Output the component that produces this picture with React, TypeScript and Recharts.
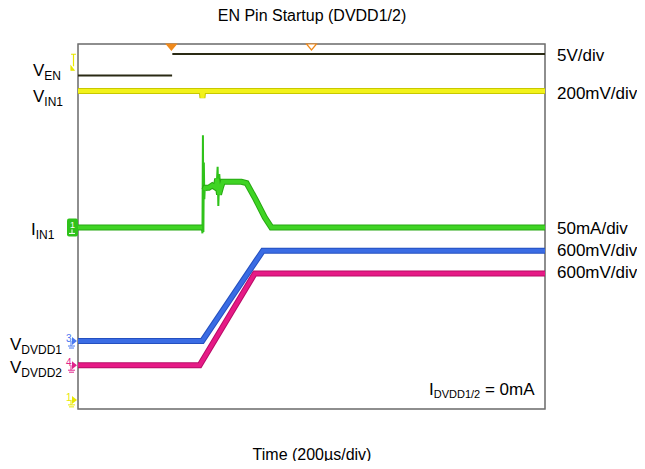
import React from 'react';
import { LineChart, Line, XAxis, YAxis, CartesianGrid, ReferenceArea, ReferenceDot } from 'recharts';

// time axis in µs (200 µs/div), vertical axis in screen divisions (8 div, 0 = bottom)
const timeTicks = [0, 200, 400, 600, 800, 1000, 1200, 1400, 1600, 1800, 2000];
const divTicks = [0, 1, 2, 3, 4, 5, 6, 7, 8];

// V_EN (5V/div) - the edge itself is too fast to show on screen
const venTime = [0, 403, 403.5, 404, 2000];
const venLevel = [7.31, 7.31, null, 7.78, 7.78];

// V_IN1 (200mV/div)
const vinTime = [0, 530, 533, 536, 2000];
const vinLevel = [6.97, 6.97, 6.82, 6.97, 6.97];

// I_IN1 (50mA/div), body of the trace
const iinTime = [0, 532, 533, 541, 545, 560, 575, 590, 596, 604, 612, 620, 700, 722, 760, 800, 828, 2000];
const iinLevel = [3.98, 3.98, null, 4.8, 4.85, 4.85, 4.9, 4.85, 5.05, 4.7, 4.85, 4.98, 4.98, 4.95, 4.6, 4.2, 3.98, 3.98];

// I_IN1 inrush spike and ringing
const spikeTime = [530, 533, 535, 537, 539, 541, 543, 590, 595, 598, 601, 605, 610];
const spikeLevel = [3.98, 3.85, 6.0, 3.88, 5.4, 4.6, 4.85, 4.85, 5.0, 5.31, 4.45, 5.15, 4.8];

// V_DVDD1 (600mV/div)
const dvdd1Time = [0, 532, 792, 2000];
const dvdd1Level = [1.49, 1.49, 3.47, 3.47];

// V_DVDD2 (600mV/div)
const dvdd2Time = [0, 521, 757, 2000];
const dvdd2Level = [0.96, 0.96, 2.97, 2.97];

// channel ground markers on the left edge
const markerLevels = [3.98, 1.49, 0.96, 0.2];
const markerColors = ['#2fc21a', '#4a78f0', '#e0248c', '#e8e800'];
const markerNames = ['1', '3', '4', '1'];
const triggerLevel = 7.6;

const zip = (t: number[], v: (number | null)[]) => t.map((x, i) => ({ t: x, v: v[i] }));

const font = '"Liberation Sans", Arial, sans-serif';

const ChannelMarker = (props: any) => {
  const { cx, cy, color, name, boxed } = props;
  if (boxed) {
    return (
      <g>
        <rect x={cx - 11} y={cy - 9} width={11} height={18} rx={2} fill={color} />
        <text x={cx - 8} y={cy + 1} fontSize={9} fill="#fff" fontFamily={font}>{name}</text>
        <path d={`M${cx - 6} ${cy + 2} v4 M${cx - 9} ${cy + 6} h6`} stroke="#fff" strokeWidth={1} />
      </g>
    );
  }
  return (
    <g>
      <text x={cx - 12} y={cy + 1} fontSize={10} fill={color} fontFamily={font}>{name}</text>
      <path d={`M${cx - 6} ${cy - 4} l5 4 l-5 4 z`} fill={color} />
      <path d={`M${cx - 7} ${cy} v5 M${cx - 10} ${cy + 5} h7 M${cx - 9} ${cy + 7} h5`} stroke={color} strokeWidth={1} fill="none" />
    </g>
  );
};

const TriggerLevelMarker = (props: any) => {
  const { cx, cy } = props;
  return (
    <g stroke="#e8e800" fill="#e8e800" strokeWidth={1.2}>
      <path d={`M${cx - 7} ${cy - 8} h5 M${cx - 4.5} ${cy - 8} v12`} fill="none" />
      <path d={`M${cx - 7} ${cy + 4} l3 4 l-3 0 z`} />
    </g>
  );
};

const TriggerMarker = (props: any) => {
  const { cx, cy, filled } = props;
  return (
    <path
      d={`M${cx - 5} ${cy} L${cx + 5} ${cy} L${cx} ${cy + 6} Z`}
      fill={filled ? '#f08a1c' : '#fff'}
      stroke="#f08a1c"
      strokeWidth={1.2}
    />
  );
};

const Labels = () => (
  <g fontFamily={font} fill="#000">
    <text x={312} y={21} fontSize={16} textAnchor="middle">EN Pin Startup (DVDD1/2)</text>
    <text x={312} y={460} fontSize={16} textAnchor="middle">Time (200µs/div)</text>

    <text x={33} y={76} fontSize={17}>V<tspan dy={4} fontSize={12}>EN</tspan></text>
    <text x={33} y={102} fontSize={17}>V<tspan dy={4} fontSize={12}>IN1</tspan></text>
    <text x={31} y={235} fontSize={17}>I<tspan dy={4} fontSize={12}>IN1</tspan></text>
    <text x={10} y={350} fontSize={17}>V<tspan dy={4} fontSize={12}>DVDD1</tspan></text>
    <text x={10} y={373} fontSize={17}>V<tspan dy={4} fontSize={12}>DVDD2</tspan></text>

    <text x={557} y={61} fontSize={17}>5V/div</text>
    <text x={557} y={99} fontSize={17}>200mV/div</text>
    <text x={557} y={234} fontSize={17}>50mA/div</text>
    <text x={557} y={256} fontSize={17}>600mV/div</text>
    <text x={557} y={278} fontSize={17}>600mV/div</text>

    <text x={429} y={395} fontSize={17}>I<tspan dy={3} fontSize={11}>DVDD1/2</tspan><tspan dy={-3}> = 0mA</tspan></text>
  </g>
);

const trace = (data: any[], color: string, width: number, key: string) => (
  <Line
    key={key}
    data={data}
    dataKey="v"
    type="linear"
    stroke={color}
    strokeWidth={width}
    dot={false}
    activeDot={false}
    isAnimationActive={false}
  />
);

export default function App() {
  const ven = zip(venTime, venLevel);
  const vin = zip(vinTime, vinLevel);
  const iin = zip(iinTime, iinLevel);
  const spike = zip(spikeTime, spikeLevel);
  const dvdd1 = zip(dvdd1Time, dvdd1Level);
  const dvdd2 = zip(dvdd2Time, dvdd2Level);

  return (
    <div style={{ margin: -8, width: 645, height: 469, background: '#fff' }}>
      <LineChart width={645} height={469} margin={{ top: 44, right: 100, bottom: 60, left: 78 }}>
        <XAxis
          type="number"
          dataKey="t"
          domain={[0, 2000]}
          ticks={timeTicks}
          tick={false}
          tickLine={false}
          axisLine={false}
          height={0}
          allowDataOverflow
        />
        <YAxis
          type="number"
          domain={[0, 8]}
          ticks={divTicks}
          tick={false}
          tickLine={false}
          axisLine={false}
          width={0}
          allowDataOverflow
        />
        <CartesianGrid stroke="#d4d4d4" strokeWidth={1} />
        {trace(vin, '#c8c800', 6, 'vin-edge')}
        {trace(vin, '#f2f21a', 4, 'vin')}
        {trace(ven, '#2a2a14', 2, 'ven')}
        {trace(spike, '#2fc21a', 2, 'spike')}
        {trace(iin, '#27a812', 6, 'iin-edge')}
        {trace(iin, '#3fd424', 4, 'iin')}
        {trace(dvdd2, '#b80c66', 6, 'dvdd2-edge')}
        {trace(dvdd2, '#e61a86', 4, 'dvdd2')}
        {trace(dvdd1, '#2450c0', 6, 'dvdd1-edge')}
        {trace(dvdd1, '#3a6ce4', 4, 'dvdd1')}
        <ReferenceArea x1={0} x2={2000} y1={0} y2={8} fill="none" stroke="#707070" strokeWidth={1.5} ifOverflow="visible" />
        {markerLevels.map((lv, i) => (
          <ReferenceDot
            key={i}
            x={0}
            y={lv}
            ifOverflow="visible"
            shape={(p: any) => <ChannelMarker {...p} color={markerColors[i]} name={markerNames[i]} boxed={i === 0} />}
          />
        ))}
        <ReferenceDot x={0} y={triggerLevel} ifOverflow="visible" shape={(p: any) => <TriggerLevelMarker {...p} />} />
        <ReferenceDot x={400} y={8} ifOverflow="visible" shape={(p: any) => <TriggerMarker {...p} filled />} />
        <ReferenceDot x={1000} y={8} ifOverflow="visible" shape={(p: any) => <TriggerMarker {...p} filled={false} />} />
        <Labels />
      </LineChart>
    </div>
  );
}
